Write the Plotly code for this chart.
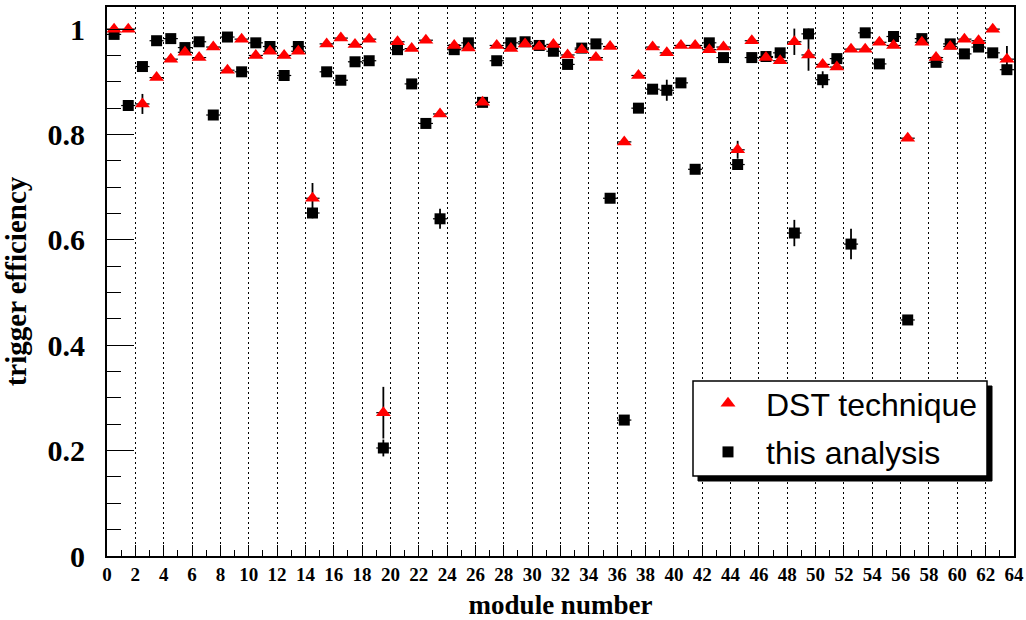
import numpy as np
import plotly.graph_objects as go

# Module numbers (bins 0..63, points drawn at bin centres)
modules = list(range(64))

# Trigger efficiency from the DST technique
dst_eff = [1.000, 1.000, 0.858, 0.908, 0.943, 0.956, 0.946, 0.966, 0.922, 0.981,
           0.950, 0.958, 0.950, 0.958, 0.679, 0.972, 0.983, 0.971, 0.981, 0.272,
           0.976, 0.963, 0.979, 0.839, 0.969, 0.964, 0.861, 0.969, 0.963, 0.972,
           0.967, 0.971, 0.951, 0.961, 0.946, 0.967, 0.786, 0.912, 0.966, 0.955,
           0.969, 0.969, 0.961, 0.966, 0.771, 0.978, 0.946, 0.940, 0.976, 0.951,
           0.933, 0.928, 0.962, 0.962, 0.975, 0.969, 0.793, 0.975, 0.946, 0.967,
           0.981, 0.978, 1.000, 0.943]

# Trigger efficiency from this analysis
ana_eff = [0.990, 0.855, 0.929, 0.978, 0.982, 0.965, 0.976, 0.837, 0.985, 0.919,
           0.974, 0.967, 0.912, 0.967, 0.651, 0.919, 0.903, 0.938, 0.940, 0.205,
           0.961, 0.896, 0.821, 0.640, 0.961, 0.974, 0.861, 0.940, 0.974, 0.976,
           0.969, 0.958, 0.933, 0.964, 0.972, 0.679, 0.258, 0.850, 0.886, 0.884,
           0.898, 0.734, 0.974, 0.946, 0.743, 0.946, 0.948, 0.955, 0.613, 0.991,
           0.904, 0.944, 0.592, 0.993, 0.934, 0.986, 0.448, 0.982, 0.937, 0.972,
           0.953, 0.966, 0.955, 0.923]

# Statistical uncertainties (small by default, larger where visible)
dst_err = [0.004] * 64
for m, e in {2: 0.019, 14: 0.029, 19: 0.049, 44: 0.017, 48: 0.025,
             49: 0.030, 63: 0.025}.items():
    dst_err[m] = e

ana_err = [0.004] * 64
for m, e in {14: 0.010, 19: 0.016, 23: 0.019, 39: 0.020, 48: 0.025,
             49: 0.010, 50: 0.016, 52: 0.029}.items():
    ana_err[m] = e

x_centres = np.array(modules) + 0.5
half_bin = [0.5] * 64

fig = go.Figure()

fig.add_trace(go.Scatter(
    x=x_centres, y=ana_eff, mode="markers", name="this analysis",
    legendgroup="ana", legendrank=2,
    marker=dict(symbol="square", size=11, color="black"),
    error_x=dict(type="data", array=half_bin, width=0, thickness=1.2, color="black"),
    error_y=dict(type="data", array=ana_err, width=0, thickness=1.8, color="black"),
))

fig.add_trace(go.Scatter(
    x=x_centres, y=dst_eff, mode="markers", name="DST technique",
    legendgroup="dst", legendrank=1,
    marker=dict(symbol="triangle-up", size=13, color="#ff0000"),
    error_x=dict(type="data", array=half_bin, width=0, thickness=1.2, color="black"),
    error_y=dict(type="data", array=dst_err, width=0, thickness=1.8, color="black"),
))

serif_bold = dict(family="Liberation Serif", color="black", weight="bold")

fig.update_xaxes(
    range=[0, 64], tick0=0, dtick=2, ticks="inside", ticklen=11, tickwidth=1,
    tickcolor="black", showline=True, linecolor="black", linewidth=2, mirror=True,
    showgrid=True, gridcolor="black", gridwidth=1.2, griddash="2px,3px",
    zeroline=False,
    minor=dict(dtick=1, ticks="inside", ticklen=6, tickcolor="black", showgrid=False),
    tickfont=dict(size=19, **serif_bold),
    title=dict(text="module number", font=dict(size=27, **serif_bold), standoff=14),
)

fig.update_yaxes(
    range=[0, 1.042], tick0=0, dtick=0.2, ticks="inside", ticklen=27, tickwidth=1,
    tickcolor="black", showline=True, linecolor="black", linewidth=2, mirror=True,
    showgrid=False, zeroline=False,
    minor=dict(dtick=0.05, ticks="inside", ticklen=14, tickcolor="black", showgrid=False),
    tickfont=dict(size=30, **serif_bold), ticklabelstandoff=14,
    title=dict(text="trigger efficiency", font=dict(size=29, **serif_bold), standoff=12),
)

# Legend frame with drop shadow (paper coordinates)
L, R, B, T = 107, 1014, 556, 7
def px_x(p):
    return (p - L) / (R - L)
def px_y(p):
    return (B - p) / (B - T)

box = dict(x0=693, x1=987, y0=381, y1=476)
shadow_off = 5
fig.add_shape(type="rect", xref="paper", yref="paper", layer="above",
              x0=px_x(box["x0"] + shadow_off), x1=px_x(box["x1"] + shadow_off),
              y0=px_y(box["y1"] + shadow_off), y1=px_y(box["y0"] + shadow_off),
              fillcolor="black", line=dict(color="black", width=1))
fig.add_shape(type="rect", xref="paper", yref="paper", layer="above",
              x0=px_x(box["x0"]), x1=px_x(box["x1"]),
              y0=px_y(box["y1"]), y1=px_y(box["y0"]),
              fillcolor="white", line=dict(color="black", width=1.5))

fig.update_layout(
    width=1026, height=620,
    margin=dict(l=L, r=1026 - R, t=T, b=620 - B, autoexpand=False),
    paper_bgcolor="white", plot_bgcolor="white",
    showlegend=True,
    legend=dict(
        x=px_x(690), y=px_y(376), xanchor="left", yanchor="top",
        bgcolor="rgba(0,0,0,0)", borderwidth=0,
        font=dict(family="Liberation Sans", size=32, color="black"),
        traceorder="grouped", tracegroupgap=4, itemwidth=66,
    ),
)

fig.write_html("out.html")
